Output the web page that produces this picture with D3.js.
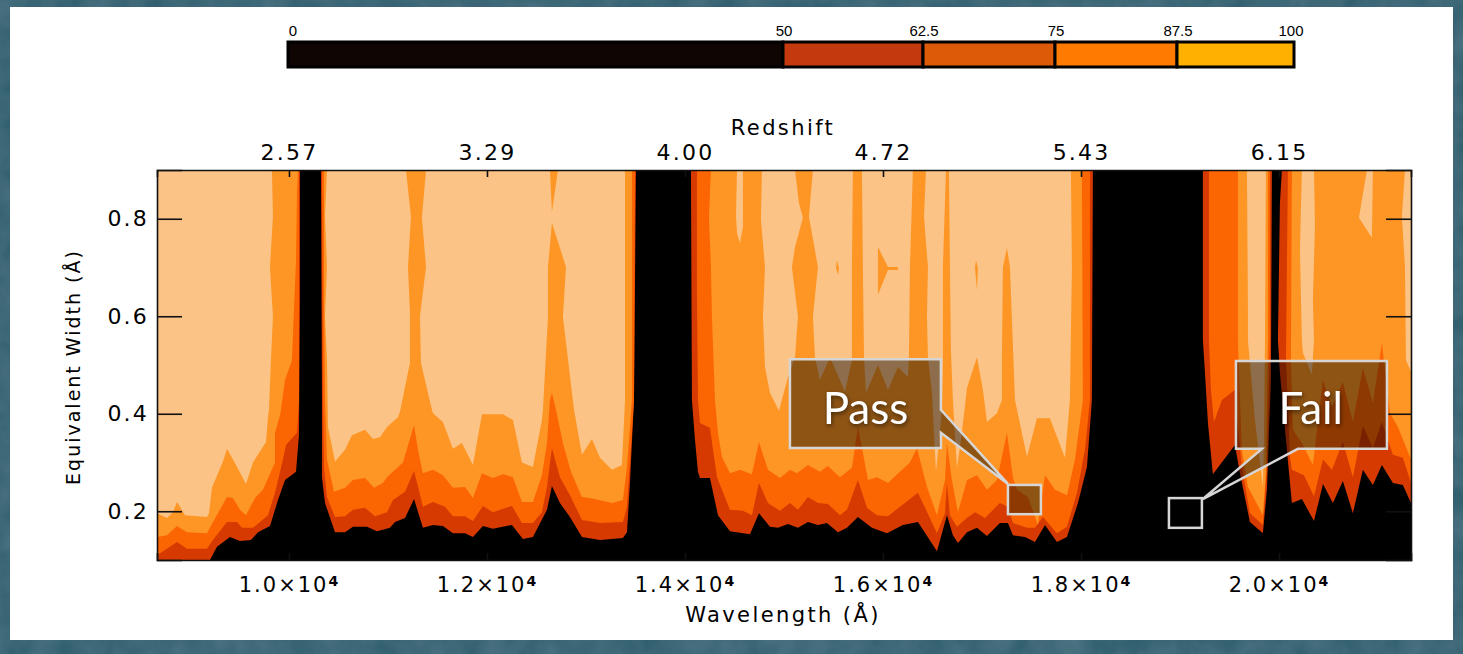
<!DOCTYPE html>
<html>
<head>
<meta charset="utf-8">
<script src="https://cdnjs.cloudflare.com/ajax/libs/d3/7.8.5/d3.min.js"></script>
<style>
  html, body { margin: 0; padding: 0; background: #29505f; overflow: hidden; }
  svg { display: block; }
  .axis text { font-family: "DejaVu Sans", sans-serif; font-size: 22px; letter-spacing: 2.2px; fill: #000; }
  .axis line, .axis path { stroke: #111; stroke-width: 1.6; }
  .title { font-family: "DejaVu Sans", sans-serif; font-size: 21px; letter-spacing: 2.4px; fill: #000; }
  .bartext { font-family: "Liberation Sans", sans-serif; font-size: 15px; fill: #000; }
  .note { font-family: Lato, sans-serif; font-size: 44px; fill: #fff; filter: drop-shadow(1px 2px 2px rgba(0,0,0,.5)); }
</style>
</head>
<body>
<script>
// completeness levels, each one is a list of contour rings [wavelength, equivalent width]
const level50 = [
  [[8667,.9],[10111,.9],[10111,.633],[10101,.356],[10071,.281],[9960,.264],[9889,.223],[9808,.17],[9687,.157],[9616,.141],[9505,.139],[9404,.147],[9273,.127],[9202,.1],[8667,.1]],
  [[10323,.9],[10333,.428],[10333,.27],[10364,.217],[10465,.157],[10566,.157],[10646,.168],[10788,.168],[10889,.159],[11020,.166],[11071,.178],[11172,.186],[11263,.225],[11353,.166],[11454,.172],[11555,.17],[11656,.155],[11778,.155],[11858,.147],[11959,.17],[12060,.164],[12252,.172],[12363,.143],[12464,.147],[12606,.203],[12656,.252],[12737,.217],[12838,.188],[12959,.147],[13141,.141],[13373,.145],[13414,.157],[13444,.258],[13485,.428],[13505,.9]],
  [[14060,.9],[14070,.428],[14101,.346],[14131,.281],[14151,.268],[14252,.268],[14333,.192],[14454,.159],[14656,.153],[14747,.196],[14858,.168],[14939,.166],[15040,.174],[15141,.166],[15242,.178],[15343,.172],[15434,.176],[15545,.157],[15636,.166],[15747,.188],[15888,.166],[16040,.155],[16201,.172],[16353,.178],[16545,.118],[16646,.192],[16706,.151],[16757,.135],[16848,.157],[16949,.166],[17050,.149],[17181,.176],[17262,.176],[17312,.151],[17434,.147],[17535,.137],[17636,.172],[17757,.137],[17858,.147],[17969,.217],[18060,.291],[18110,.428],[18120,.9]],
  [[19231,.9],[19231,.551],[19252,.484],[19282,.381],[19332,.276],[19555,.336],[19605,.278],[19706,.178],[19837,.155],[19878,.244],[19918,.469],[19928,.9]],
  [[20029,.9],[20009,.832],[19989,.551],[20009,.484],[20070,.346],[20130,.217],[20231,.225],[20353,.18],[20444,.256],[20544,.217],[20645,.262],[20746,.196],[20847,.285],[20948,.254],[21039,.295],[21150,.258],[21251,.254],[21333,.217],[21333,.9]]
];

const level625 = [
  [[8667,.9],[10101,.9],[10101,.428],[10081,.361],[9970,.336],[9939,.306],[9859,.238],[9788,.192],[9636,.166],[9525,.166],[9475,.178],[9374,.178],[9232,.141],[9172,.123],[8970,.123],[8869,.137],[8667,.11]],
  [[10333,.9],[10343,.428],[10354,.291],[10384,.229],[10465,.188],[10566,.19],[10646,.203],[10768,.207],[10869,.19],[10990,.198],[11050,.223],[11172,.24],[11263,.283],[11353,.209],[11454,.219],[11576,.209],[11656,.19],[11778,.19],[11858,.18],[11959,.211],[12060,.198],[12252,.211],[12353,.176],[12464,.176],[12555,.198],[12606,.25],[12656,.33],[12737,.27],[12838,.233],[12959,.182],[13141,.176],[13373,.178],[13414,.209],[13464,.361],[13485,.428],[13495,.9]],
  [[14121,.9],[14121,.633],[14131,.428],[14151,.381],[14252,.371],[14323,.27],[14454,.203],[14585,.201],[14676,.192],[14747,.258],[14838,.217],[14959,.201],[15060,.217],[15141,.203],[15242,.229],[15343,.217],[15444,.215],[15565,.192],[15636,.203],[15747,.264],[15838,.207],[15939,.192],[16050,.19],[16353,.238],[16545,.155],[16626,.196],[16646,.258],[16676,.192],[16747,.168],[16848,.186],[16929,.198],[17030,.186],[17181,.217],[17262,.209],[17312,.176],[17454,.166],[17535,.166],[17615,.188],[17757,.155],[17858,.168],[17959,.238],[18040,.326],[18090,.428],[18090,.9]],
  [[19292,.9],[19292,.551],[19312,.449],[19343,.383],[19423,.428],[19555,.449],[19575,.393],[19625,.291],[19706,.196],[19837,.172],[19878,.291],[19898,.449],[19908,.551],[19908,.9]],
  [[20090,.9],[20070,.51],[20090,.414],[20110,.312],[20130,.285],[20252,.274],[20353,.231],[20444,.306],[20534,.285],[20645,.342],[20746,.27],[20847,.375],[20948,.33],[21039,.383],[21150,.316],[21251,.31],[21333,.258],[21333,.9]]
];

const level75 = [
  [[8667,.9],[10091,.9],[10081,.853],[10071,.715],[10030,.51],[9960,.469],[9919,.408],[9909,.397],[9859,.361],[9859,.3],[9737,.244],[9657,.227],[9566,.192],[9505,.203],[9434,.227],[9374,.229],[9283,.196],[9232,.178],[9172,.155],[8970,.157],[8869,.17],[8768,.151],[8667,.147]],
  [[10354,.9],[10354,.633],[10364,.428],[10384,.306],[10455,.24],[10566,.248],[10646,.264],[10768,.268],[10859,.248],[10949,.258],[10990,.27],[11151,.3],[11263,.377],[11303,.326],[11353,.278],[11454,.285],[11555,.274],[11656,.248],[11778,.25],[11858,.227],[11949,.278],[12060,.268],[12161,.276],[12262,.27],[12353,.219],[12464,.219],[12555,.274],[12606,.34],[12636,.428],[12656,.443],[12697,.408],[12767,.34],[12848,.281],[12959,.229],[13040,.227],[13262,.217],[13373,.223],[13414,.291],[13464,.428],[13464,.9]],
  [[14262,.9],[14242,.804],[14262,.701],[14272,.599],[14303,.428],[14333,.361],[14373,.312],[14454,.278],[14555,.285],[14676,.276],[14747,.342],[14838,.285],[14959,.268],[15060,.285],[15131,.278],[15242,.295],[15363,.281],[15444,.293],[15565,.27],[15686,.289],[15747,.373],[15797,.32],[15848,.264],[15939,.27],[16050,.258],[16171,.281],[16272,.3],[16343,.33],[16444,.25],[16545,.192],[16626,.264],[16646,.34],[16696,.264],[16757,.198],[16848,.264],[16949,.274],[17050,.244],[17151,.264],[17252,.361],[17312,.27],[17353,.244],[17464,.229],[17565,.172],[17636,.274],[17737,.244],[17858,.233],[17939,.306],[18019,.428],[18009,.9]],
  [[19585,.9],[19585,.551],[19595,.484],[19625,.326],[19686,.25],[19837,.192],[19868,.278],[19888,.551],[19888,.9]],
  [[20130,.9],[20120,.51],[20140,.367],[20241,.336],[20342,.295],[20444,.469],[20534,.414],[20645,.465],[20746,.383],[20847,.494],[20948,.422],[21039,.545],[21120,.401],[21201,.373],[21333,.306],[21333,.9]]
];

const level875 = [
  [[8667,.9],[9828,.9],[9838,.804],[9808,.701],[9838,.599],[9818,.51],[9798,.408],[9788,.393],[9768,.342],[9636,.3],[9566,.256],[9465,.295],[9374,.328],[9333,.302],[9222,.248],[9192,.196],[9172,.188],[8950,.192],[8869,.219],[8828,.198],[8768,.186],[8667,.196]],
  [[10384,.9],[10364,.804],[10384,.701],[10364,.599],[10384,.51],[10394,.373],[10465,.302],[10566,.326],[10636,.356],[10768,.367],[10848,.348],[10919,.352],[10990,.373],[11101,.393],[11121,.404],[11222,.504],[11222,.607],[11202,.701],[11232,.804],[11182,.9]],
  [[11384,.9],[11343,.802],[11384,.701],[11323,.599],[11333,.504],[11444,.408],[11454,.401],[11555,.383],[11656,.328],[11747,.34],[11858,.295],[11949,.399],[12161,.399],[12262,.387],[12353,.3],[12464,.291],[12555,.387],[12565,.408],[12616,.599],[12616,.701],[12656,.792],[12798,.701],[12767,.599],[12879,.408],[12959,.316],[13060,.348],[13141,.31],[13262,.285],[13363,.295],[13394,.428],[13394,.9],[12717,.9],[12656,.814],[12636,.9]],
  [[14525,.9],[14515,.804],[14525,.771],[14555,.75],[14585,.783],[14585,.9]],
  [[14777,.9],[14767,.798],[14808,.701],[14787,.599],[14808,.496],[14858,.443],[14949,.406],[15040,.475],[15111,.516],[15141,.599],[15080,.701],[15111,.742],[15191,.802],[15151,.832],[15111,.9]],
  [[15292,.9],[15252,.804],[15343,.701],[15292,.599],[15313,.516],[15363,.469],[15464,.516],[15616,.445],[15686,.51],[15686,.701],[15696,.9]],
  [[15787,.9],[15797,.701],[15808,.516],[15828,.443],[15949,.5],[16050,.449],[16151,.496],[16252,.475],[16262,.516],[16272,.701],[16302,.9]],
  [[16434,.9],[16414,.804],[16454,.701],[16444,.599],[16454,.516],[16494,.443],[16535,.281],[16575,.361],[16595,.408],[16605,.51],[16605,.701],[16636,.9]],
  [[16666,.9],[16676,.701],[16686,.531],[16706,.428],[16747,.289],[16797,.361],[16848,.453],[16949,.516],[17009,.449],[17050,.383],[17151,.401],[17201,.428],[17201,.516],[17211,.701],[17252,.74],[17282,.701],[17333,.428],[17454,.312],[17555,.391],[17686,.391],[17838,.31],[17888,.428],[17908,.701],[17898,.9]],
  [[19676,.9],[19686,.613],[19686,.551],[19757,.387],[19837,.25],[19848,.346],[19858,.551],[19868,.9]],
  [[20231,.9],[20211,.736],[20231,.551],[20241,.525],[20332,.48],[20353,.551],[20342,.633],[20363,.787],[20353,.9]],
  [[20888,.9],[20807,.802],[20938,.761],[20948,.9]],
  [[21272,.9],[21241,.804],[21272,.701],[21282,.51],[21333,.486],[21333,.9]]
];

// small pockets of the 75 level inside the 87.5 level
const pockets75 = [
  [[15525,.699],[15535,.715],[15555,.699],[15545,.685]],
  [[15949,.742],[16050,.701],[16151,.701],[16151,.695],[16050,.695],[15949,.644]],
  [[16939,.715],[16959,.699],[16949,.654],[16929,.699]]
];

const waveTicks = [10000, 12000, 14000, 16000, 18000, 20000];
const waveLabels = ["1.0", "1.2", "1.4", "1.6", "1.8", "2.0"];
const redshiftLabels = ["2.57", "3.29", "4.00", "4.72", "5.43", "6.15"];
const ewTicks = [0.2, 0.4, 0.6, 0.8];

// colour bar
const barLevels = [0, 50, 62.5, 75, 87.5, 100];
const barColors = ["#0f0502", "#c43a0e", "#dd5b08", "#ff7a00", "#ffb000"];

// callouts, [wave left, wave right, ew top, ew bottom]
const passBox = [15060, 16585, .512, .33];
const passTail = [[16585, .408], [17262, .256], [16585, .361]];
const passSquare = [17262, 17595, .254, .194];
const failBox = [19565, 21090, .508, .328];
const failTail = [[20191, .328], [19231, .225], [19827, .328]];
const failSquare = [18888, 19221, .227, .166];

var svg = d3.select("body").append("svg")
  .attr("width", 1463)
  .attr("height", 654);

// mottled slide background
var texture = svg.append("filter").attr("id", "mottle")
  .attr("x", 0).attr("y", 0).attr("width", "100%").attr("height", "100%");
texture.append("feTurbulence")
  .attr("type", "fractalNoise")
  .attr("baseFrequency", 0.035)
  .attr("numOctaves", 3)
  .attr("seed", 4);
texture.append("feColorMatrix")
  .attr("values", "0 0 0 0 0.09  0 0 0 0 0.2  0 0 0 0 0.26  0.9 0 0 0 -0.2");
texture.append("feComposite").attr("in2", "SourceGraphic").attr("operator", "atop");

svg.append("rect")
  .attr("width", 1463).attr("height", 654)
  .attr("fill", "#33606f");
svg.append("rect")
  .attr("width", 1463).attr("height", 654)
  .attr("fill", "#33606f")
  .attr("filter", "url(#mottle)");

// white slide panel
svg.append("rect")
  .attr("x", 10)
  .attr("y", 7)
  .attr("width", 1443)
  .attr("height", 633)
  .attr("fill", "#fff");

var x = d3.scaleLinear().domain([8667, 21333]).range([157, 1411]);
var y = d3.scaleLinear().domain([0.1, 0.9]).range([560, 170]);
var bar = d3.scaleLinear().domain(barLevels).range([288, 783, 923, 1055, 1177, 1294]);

svg.append("clipPath").attr("id", "plot")
  .append("rect")
  .attr("x", 157).attr("y", 170).attr("width", 1254).attr("height", 390);

var plot = svg.append("g").attr("clip-path", "url(#plot)");

plot.append("rect")
  .attr("x", 157).attr("y", 170).attr("width", 1254).attr("height", 390)
  .attr("fill", "#000");

var ring = d3.line().x(d => x(d[0])).y(d => y(d[1]));

function drawLevel(rings, color) {
  plot.append("g").selectAll("path")
    .data(rings)
    .enter().append("path")
    .attr("d", d => ring(d) + "Z")
    .attr("fill", color);
}

drawLevel(level50, "#d63a00");
drawLevel(level625, "#fc6602");
drawLevel(level75, "#fe9625");
drawLevel(level875, "#fbc386");
drawLevel(pockets75, "#fe9625");

// axes
svg.append("g").attr("class", "axis")
  .attr("transform", "translate(157,0)")
  .call(d3.axisLeft(y).tickValues(ewTicks).tickSize(-25).tickPadding(8).tickFormat(d3.format(".1f")));

svg.append("g").attr("class", "axis")
  .attr("transform", "translate(1411,0)")
  .call(d3.axisRight(y).tickValues(ewTicks).tickSize(-25).tickFormat(""));

svg.append("g").attr("class", "axis")
  .attr("transform", "translate(0,170)")
  .call(d3.axisTop(x).tickValues(waveTicks).tickSize(-7).tickPadding(10)
    .tickFormat((d, i) => redshiftLabels[i]));

var bottom = svg.append("g").attr("class", "axis")
  .attr("transform", "translate(0,560)")
  .call(d3.axisBottom(x).tickValues(waveTicks).tickSize(-7).tickPadding(17)
    .tickFormat((d, i) => waveLabels[i] + "×10"));

bottom.selectAll(".tick text")
  .style("font-size", "21px")
  .style("letter-spacing", "2px")
  .append("tspan")
  .attr("dy", "-0.45em")
  .style("font-size", "14px")
  .attr("font-weight", "bold")
  .text("4");

bottom.selectAll("line").attr("stroke", "#000");

svg.append("text").attr("class", "title")
  .attr("x", 783).attr("y", 135).attr("text-anchor", "middle")
  .text("Redshift");

svg.append("text").attr("class", "title")
  .attr("x", 783).attr("y", 622).attr("text-anchor", "middle")
  .text("Wavelength (Å)");

svg.append("text").attr("class", "title")
  .attr("transform", "translate(80,367) rotate(-90)")
  .attr("text-anchor", "middle")
  .style("font-size", "19px")
  .style("letter-spacing", "2px")
  .text("Equivalent Width (Å)");

// colour bar
svg.append("g").selectAll("rect")
  .data(barColors)
  .enter().append("rect")
  .attr("x", (d, i) => bar(barLevels[i]))
  .attr("y", 42)
  .attr("width", (d, i) => bar(barLevels[i + 1]) - bar(barLevels[i]))
  .attr("height", 25)
  .attr("fill", d => d)
  .attr("stroke", "#000")
  .attr("stroke-width", 3);

svg.append("g").selectAll("text")
  .data(barLevels)
  .enter().append("text")
  .attr("class", "bartext")
  .attr("x", d => bar(d) + (d == 0 ? 5 : d == 100 ? -3 : 1))
  .attr("y", 36)
  .attr("text-anchor", "middle")
  .text(d => d);

// callouts on top of the plot
function callout(box, tail, onRight) {
  var l = x(box[0]), r = x(box[1]), t = y(box[2]), b = y(box[3]);
  var tailPts = tail.map(d => [x(d[0]), y(d[1])]);
  var pts = onRight
    ? [[l, t], [r, t]].concat(tailPts, [[r, b], [l, b]])
    : [[l, t], [r, t], [r, b]].concat(tailPts, [[l, b]]);
  svg.append("polygon")
    .attr("points", pts.join(" "))
    .attr("fill", "rgba(0,0,0,0.44)")
    .attr("stroke", "#d6d6d6")
    .attr("stroke-width", 2.5);
}

function square(box) {
  svg.append("rect")
    .attr("x", x(box[0]))
    .attr("y", y(box[2]))
    .attr("width", x(box[1]) - x(box[0]))
    .attr("height", y(box[3]) - y(box[2]))
    .attr("fill", "rgba(0,0,0,0.44)")
    .attr("stroke", "#d6d6d6")
    .attr("stroke-width", 2.5);
}

callout(passBox, passTail, true);
square(passSquare);
callout(failBox, failTail, false);
square(failSquare);

svg.append("text").attr("class", "note")
  .attr("x", x(15823)).attr("y", 424).attr("text-anchor", "middle")
  .text("Pass");

svg.append("text").attr("class", "note")
  .attr("x", x(20320)).attr("y", 424).attr("text-anchor", "middle")
  .text("Fail");
</script>
</body>
</html>
